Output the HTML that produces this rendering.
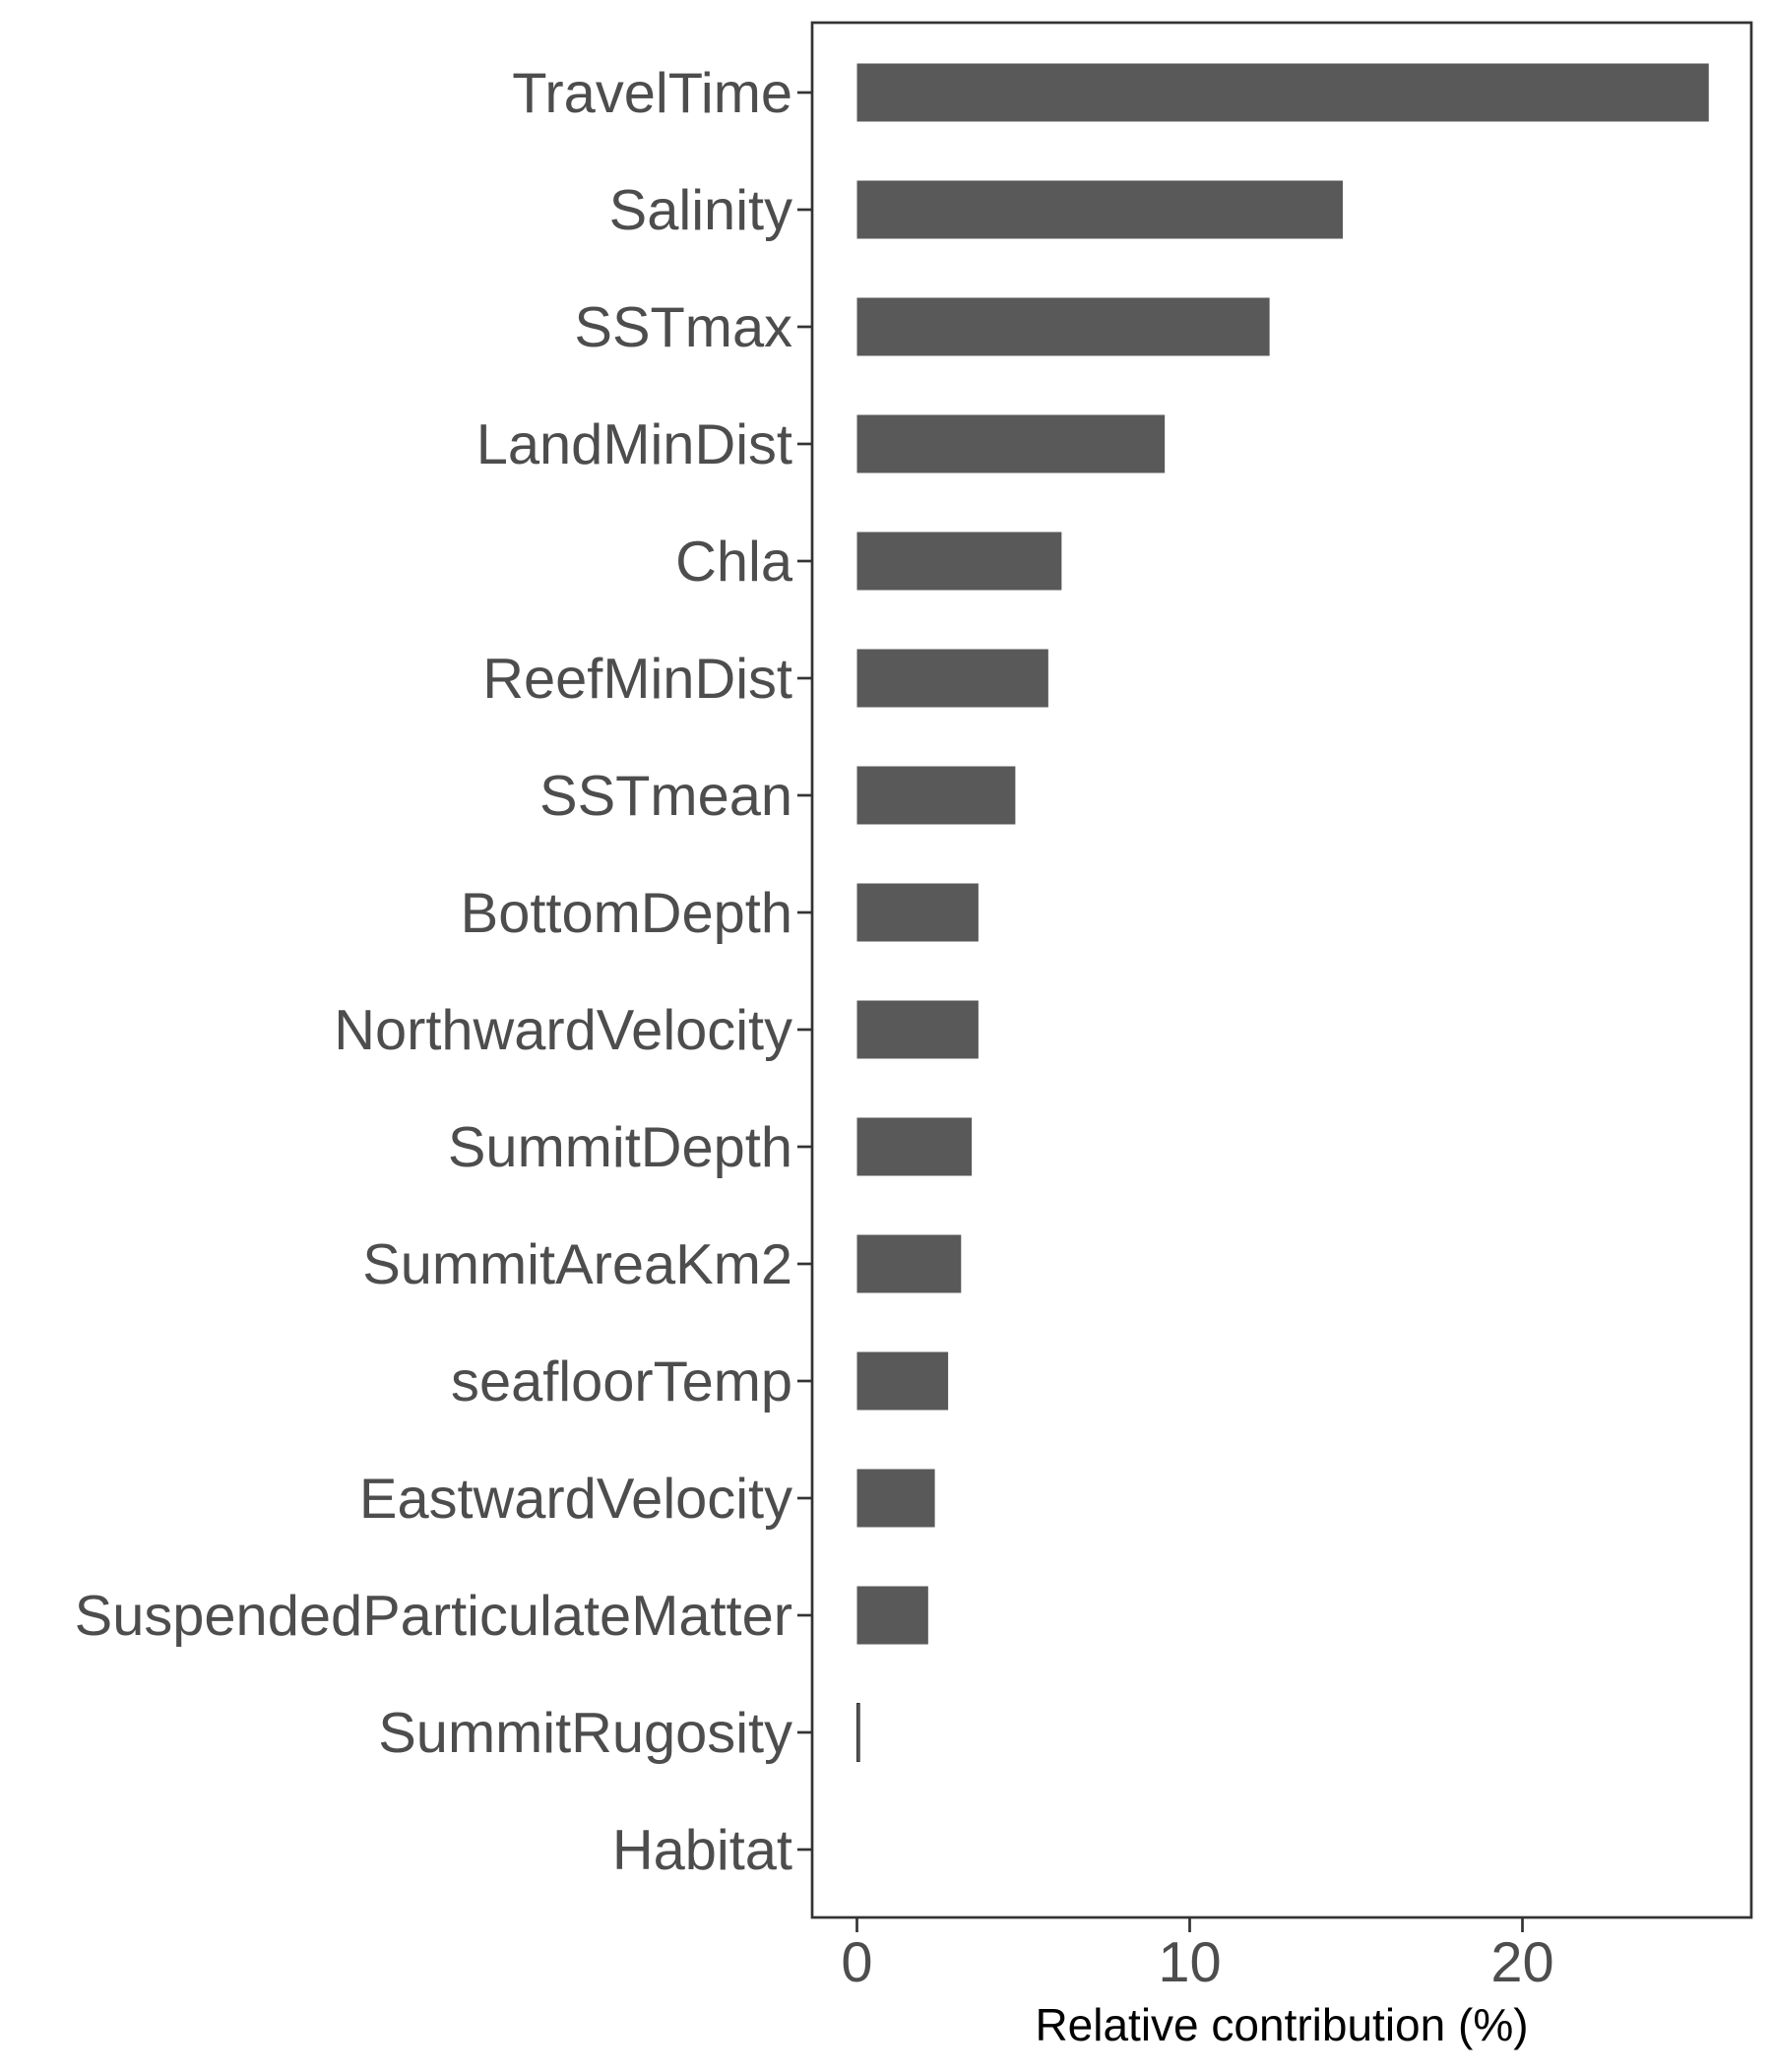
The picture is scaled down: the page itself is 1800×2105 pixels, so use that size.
<!DOCTYPE html>
<html><head><meta charset="utf-8"><style>
html,body{margin:0;padding:0;background:#fff;}
svg text{font-family:"Liberation Sans",Arial,sans-serif;}
</style></head><body>
<svg id="chart" width="1800" height="2100" xmlns="http://www.w3.org/2000/svg">
<rect x="825" y="23" width="954" height="1925" fill="none" stroke="#333" stroke-width="2.7"/>
<g id="bars"></g>
<g id="yaxis"></g>
<g id="xaxis"></g>
<text x="1302" y="2073" font-size="46" text-anchor="middle" fill="#000">Relative contribution (%)</text>
</svg>
<script>
const categories = ["TravelTime","Salinity","SSTmax","LandMinDist","Chla","ReefMinDist","SSTmean","BottomDepth","NorthwardVelocity","SummitDepth","SummitAreaKm2","seafloorTemp","EastwardVelocity","SuspendedParticulateMatter","SummitRugosity","Habitat"];
const values = [25.6,14.6,12.4,9.25,6.15,5.75,4.76,3.65,3.65,3.45,3.13,2.74,2.34,2.14,0.08,0];
const xTicks = [0,10,20];
const tickLabels = ["0","10","20"];

const NS="http://www.w3.org/2000/svg";
const x = v => 870.5 + v*33.8;
const y = i => 94 + i*119;
const bh = 59;
const bars=document.getElementById('bars'), ya=document.getElementById('yaxis'), xa=document.getElementById('xaxis');
categories.forEach((c,i)=>{
  const r=document.createElementNS(NS,'rect');
  
  
  r.setAttribute('x',x(0)); r.setAttribute('y',y(i)-bh/2);
  r.setAttribute('width',Math.max(0,x(values[i])-x(0))); r.setAttribute('height',bh);
  r.setAttribute('fill','#595959');
  if(values[i]>0 && values[i]<0.5){r.setAttribute('stroke','#333');r.setAttribute('stroke-width','1');}
  bars.appendChild(r);
  const t=document.createElementNS(NS,'line');
  
  
  t.setAttribute('x1',810);t.setAttribute('x2',825);t.setAttribute('y1',y(i));t.setAttribute('y2',y(i));
  t.setAttribute('stroke','#333');t.setAttribute('stroke-width','2.7');
  ya.appendChild(t);
  const l=document.createElementNS(NS,'text');
  
  
  l.setAttribute('x',805);l.setAttribute('y',y(i)+20);
  l.setAttribute('text-anchor','end');l.setAttribute('font-size','57.8');l.setAttribute('fill','#4d4d4d');
  l.textContent=c; ya.appendChild(l);
});
xTicks.forEach((v,i)=>{
  const t=document.createElementNS(NS,'line');
  
  
  t.setAttribute('x1',x(v));t.setAttribute('x2',x(v));t.setAttribute('y1',1948);t.setAttribute('y2',1963);
  t.setAttribute('stroke','#333');t.setAttribute('stroke-width','2.7');
  xa.appendChild(t);
  const l=document.createElementNS(NS,'text');
  
  
  l.setAttribute('x',x(v));l.setAttribute('y',2013);
  l.setAttribute('text-anchor','middle');l.setAttribute('font-size','57.8');l.setAttribute('fill','#4d4d4d');
  l.textContent=tickLabels[i]; xa.appendChild(l);
});
</script>
</body></html>
